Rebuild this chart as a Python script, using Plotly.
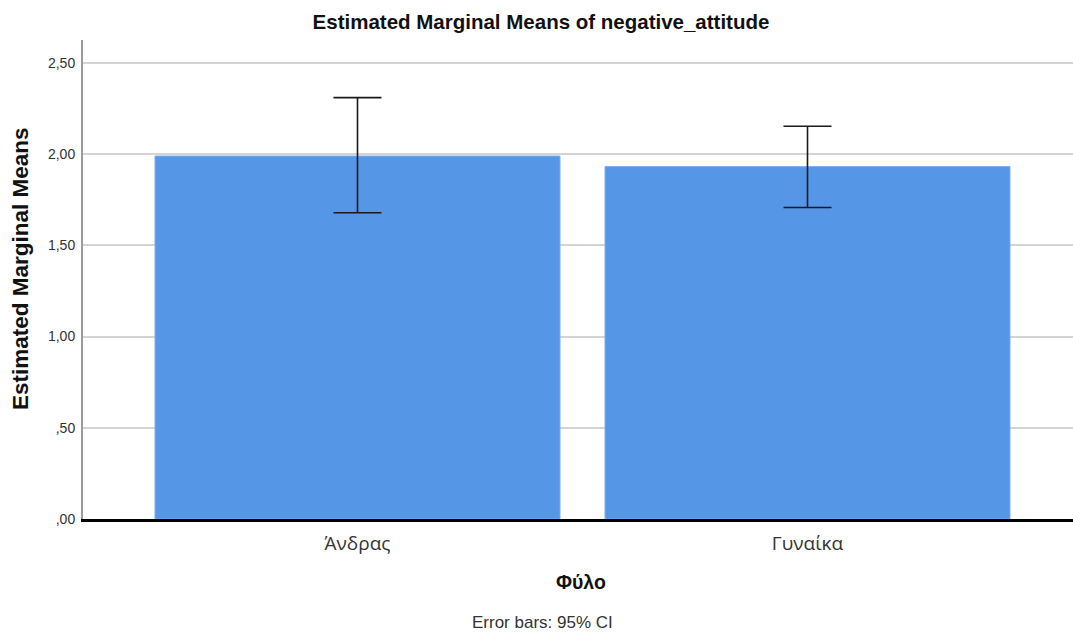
import plotly.graph_objects as go

categories = ["Άνδρας", "Γυναίκα"]
means = [1.99, 1.932]
ci_upper = [2.31, 2.153]
ci_lower = [1.679, 1.708]
y_ticks = [0, 0.5, 1.0, 1.5, 2.0, 2.5]
y_ticktext = [",00", ",50", "1,00", "1,50", "2,00", "2,50"]

err_plus = [u - m for u, m in zip(ci_upper, means)]
err_minus = [m - l for m, l in zip(means, ci_lower)]

FONT = "Liberation Sans, Arial, sans-serif"

L, R, T, B = 83, 1073, 40, 519
PH = B - T
PW = R - L

fig = go.Figure()
fig.add_trace(go.Bar(
    x=[0, 1], y=means, width=0.9,
    marker=dict(color="#5596e6", line=dict(color="#7aaef0", width=1)),
    error_y=dict(type="data", symmetric=False, array=err_plus, arrayminus=err_minus,
                 color="#1a1a1a", thickness=1.6, width=24),
    showlegend=False,
))

fig.update_layout(
    width=1073, height=635,
    margin=dict(l=L, r=1073 - R, t=T, b=635 - B),
    paper_bgcolor="white", plot_bgcolor="white",
    font=dict(family=FONT, color="#222"),
    title=dict(text="<b>Estimated Marginal Means of negative_attitude</b>",
               x=541 / 1073, xanchor="center", y=1 - 22 / 635, yanchor="middle",
               font=dict(size=20.5, color="#111")),
    xaxis=dict(range=[-0.61, 1.59], tickvals=[0, 1], ticktext=categories,
               showgrid=False, zeroline=False, showline=True, linecolor="#000",
               linewidth=3, ticks="", ticklabelstandoff=5,
               tickfont=dict(size=19, color="#333", family="Open Sans, sans-serif")),
    yaxis=dict(range=[0, 2.626], tickvals=y_ticks, ticktext=y_ticktext,
               showgrid=True, gridcolor="#d4d4d4", gridwidth=2, zeroline=False,
               showline=True, linecolor="#9a9a9a", linewidth=2, ticks="",
               ticklabelstandoff=3,
               tickfont=dict(size=14, color="#333")),
    annotations=[
        dict(text="<b>Φύλο</b>", x=(581 - L) / PW, y=0, xref="paper", yref="paper",
             xanchor="center", yanchor="middle", yshift=-(582 - B), showarrow=False,
             font=dict(size=19.5, color="#111")),
        dict(text="<b>Estimated Marginal Means</b>", x=0, y=(B - 269) / PH, xref="paper", yref="paper",
             xanchor="center", yanchor="middle", xshift=-(L - 20), textangle=-90, showarrow=False,
             font=dict(size=22.5, color="#111")),
        dict(text="Error bars: 95% CI", x=(542 - L) / PW, y=0, xref="paper", yref="paper",
             xanchor="center", yanchor="middle", yshift=-(622 - B),
             showarrow=False, font=dict(size=17, color="#333")),
    ],
)

fig.write_html("out.html")
